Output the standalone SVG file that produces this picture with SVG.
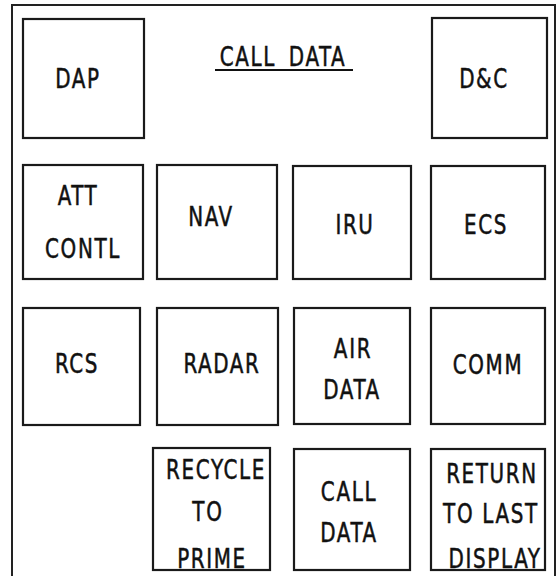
<svg xmlns="http://www.w3.org/2000/svg" width="557" height="576" viewBox="0 0 557 576">
<style>
.b{fill:none;stroke:#1a1a1a;stroke-width:2.2}
.f{fill:none;stroke:#222;stroke-width:2}
text{font-family:"DejaVu Sans Condensed","Liberation Sans Narrow","Liberation Sans",sans-serif;font-size:27px;fill:#111;stroke:#111;stroke-width:0.5;text-anchor:middle;letter-spacing:2px;transform-box:fill-box;transform-origin:center;transform:scaleX(0.82)}
</style>
<rect width="557" height="576" fill="#fff"/>
<path class="f" d="M12 576 V5 H555 V576"/>
<g id="title">
<text x="283" y="66" word-spacing="6">CALL DATA</text>
<line x1="215" y1="70" x2="353" y2="70" stroke="#111" stroke-width="2"/>
</g>
<g id="dap"><rect class="b" x="23" y="19" width="121" height="119"/><text x="78" y="88">DAP</text></g>
<g id="dc"><rect class="b" x="432" y="18" width="115" height="120"/><text x="484" y="88">D&amp;C</text></g>
<g id="attcontl"><rect class="b" x="23" y="165" width="120" height="114"/><text x="78" y="205">ATT</text><text x="83" y="258">CONTL</text></g>
<g id="nav"><rect class="b" x="157" y="165" width="120" height="114"/><text x="211" y="226">NAV</text></g>
<g id="iru"><rect class="b" x="293" y="166" width="118" height="113"/><text x="355" y="234">IRU</text></g>
<g id="ecs"><rect class="b" x="431" y="166" width="114" height="113"/><text x="486" y="234">ECS</text></g>
<g id="rcs"><rect class="b" x="23" y="308" width="117" height="117"/><text x="77" y="373">RCS</text></g>
<g id="radar"><rect class="b" x="157" y="308" width="121" height="117"/><text x="222" y="373">RADAR</text></g>
<g id="airdata"><rect class="b" x="294" y="308" width="116" height="116"/><text x="353" y="358">AIR</text><text x="352" y="399">DATA</text></g>
<g id="comm"><rect class="b" x="431" y="308" width="114" height="116"/><text x="488" y="374">COMM</text></g>
<g id="recycle"><rect class="b" x="153" y="448" width="117" height="122"/><text x="216" y="479">RECYCLE</text><text x="208" y="521">TO</text><text x="212" y="568">PRIME</text></g>
<g id="calldata"><rect class="b" x="294" y="449" width="116" height="121"/><text x="349" y="501">CALL</text><text x="349" y="542">DATA</text></g>
<g id="return"><rect class="b" x="431" y="449" width="114" height="121"/><text x="492" y="483">RETURN</text><text x="491" y="523">TO LAST</text><text x="495" y="568">DISPLAY</text></g>
<g id="connectors"></g>
</svg>
